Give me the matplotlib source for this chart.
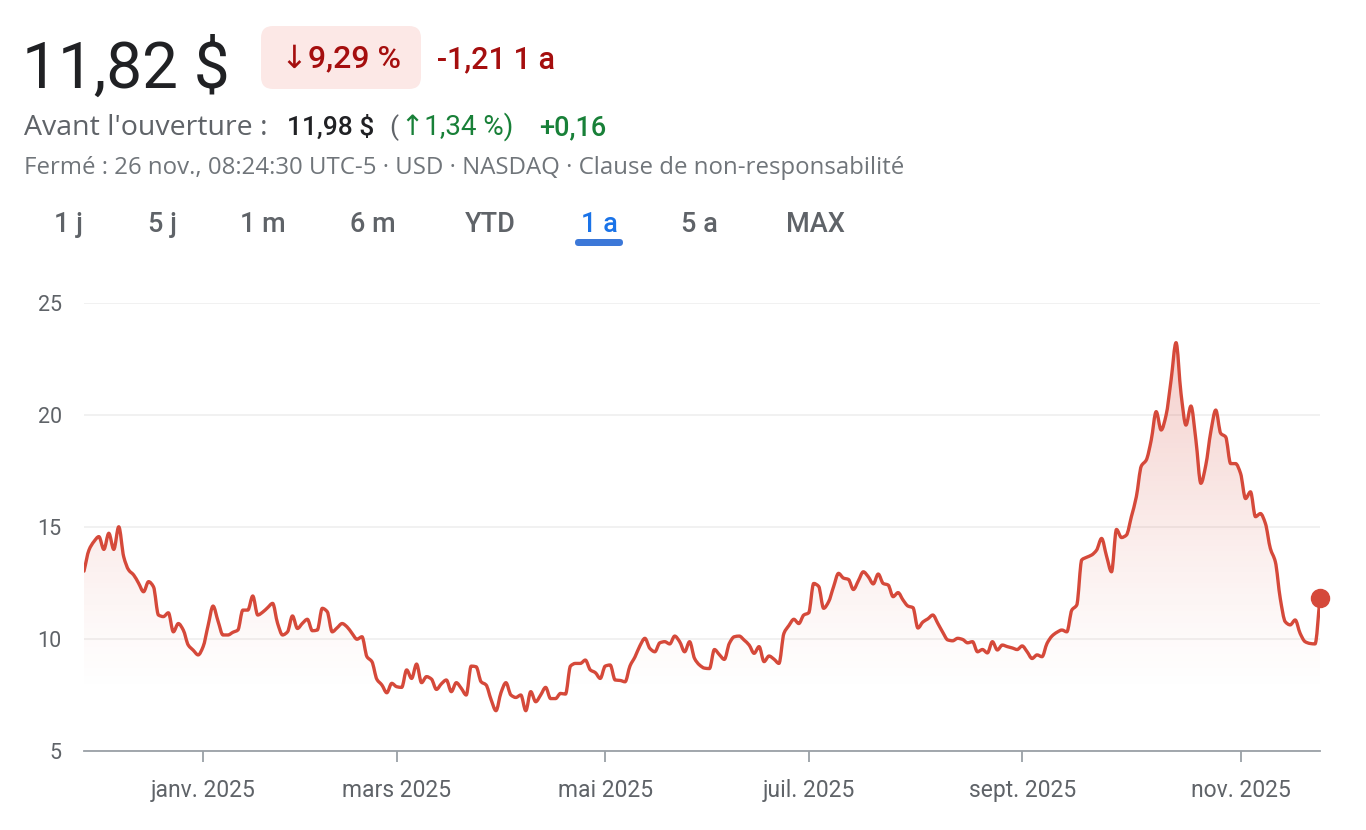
import numpy as np
import pandas as pd
import matplotlib
matplotlib.use("Agg")
import matplotlib.pyplot as plt
from matplotlib.patches import FancyBboxPatch, PathPatch
from matplotlib.path import Path
from matplotlib.transforms import IdentityTransform

plt.rcParams['font.family'] = ['Roboto', 'DejaVu Sans']

# Séances de bourse (NASDAQ) sur 1 an
jours_feries = ['2024-11-28', '2024-12-25', '2025-01-01', '2025-01-09', '2025-01-20',
                '2025-02-17', '2025-04-18', '2025-05-26', '2025-06-19', '2025-07-04',
                '2025-09-01']
seances = pd.bdate_range('2024-11-26', '2025-11-25', freq='C', holidays=jours_feries)

# Cours de clôture (un par séance)
cours = [
    13.03, 13.97, 14.35, 14.57, 14.0, 14.72, 14.0, 15.01, 13.67, 13.08,
    12.86, 12.49, 12.11, 12.56, 12.33, 11.07, 11.0, 11.17, 10.32, 10.69,
    10.40, 9.73, 9.5, 9.29, 9.66, 10.6, 11.47, 10.8, 10.18, 10.18,
    10.3, 10.40, 11.29, 11.29, 11.92, 11.07, 11.2, 11.4, 11.59, 10.7,
    10.18, 10.32, 11.03, 10.47, 10.7, 10.88, 10.37, 10.40, 11.37, 11.22,
    10.32, 10.5, 10.69, 10.54, 10.25, 9.99, 10.10, 9.21, 8.99, 8.2,
    7.95, 7.60, 8.02, 7.87, 7.84, 8.62, 8.24, 8.88, 8.05, 8.32,
    8.21, 7.75, 8.0, 8.17, 7.65, 8.05, 7.8, 7.50, 8.79, 8.76,
    8.09, 7.95, 7.3, 6.80, 7.6, 8.05, 7.50, 7.39, 7.50, 6.80,
    7.65, 7.20, 7.5, 7.84, 7.34, 7.34, 7.57, 7.54, 8.79, 8.91,
    8.91, 9.06, 8.62, 8.50, 8.24, 8.79, 8.84, 8.17, 8.15, 8.09,
    8.8, 9.2, 9.7, 10.03, 9.58, 9.43, 9.83, 9.88, 9.78, 10.13,
    9.88, 9.43, 9.88, 9.13, 8.84, 8.7, 8.68, 9.53, 9.3, 9.09,
    9.8, 10.10, 10.13, 9.95, 9.73, 9.36, 9.66, 8.99, 9.24, 9.1,
    8.91, 10.25, 10.6, 10.88, 10.69, 11.07, 11.17, 12.48, 12.35, 11.37,
    11.66, 12.33, 12.93, 12.72, 12.66, 12.21, 12.6, 13.00, 12.78, 12.46,
    12.90, 12.48, 12.41, 11.89, 12.07, 11.74, 11.47, 11.40, 10.49, 10.76,
    10.9, 11.07, 10.7, 10.3, 9.96, 9.92, 10.03, 9.98, 9.83, 9.88,
    9.43, 9.53, 9.38, 9.88, 9.51, 9.73, 9.66, 9.6, 9.53, 9.69,
    9.43, 9.13, 9.29, 9.21, 9.80, 10.13, 10.3, 10.40, 10.32, 11.29,
    11.52, 13.53, 13.65, 13.75, 13.97, 14.49, 13.7, 13.00, 14.89, 14.53,
    14.64, 15.46, 16.35, 17.72, 17.99, 18.88, 20.15, 19.33, 20.0, 21.56,
    23.23, 20.96, 19.55, 20.40, 18.88, 16.95, 17.77, 19.25, 20.22, 19.18,
    19.02, 17.83, 17.83, 17.39, 16.27, 16.57, 15.46, 15.60, 15.16, 14.04,
    13.45, 11.8, 10.77, 10.63, 10.85, 10.25, 9.88, 9.80, 9.78, 11.82,
]

mois_labels = ['janv. 2025', 'mars 2025', 'mai 2025', 'juil. 2025', 'sept. 2025', 'nov. 2025']
mois_debut = ['2025-01-01', '2025-03-01', '2025-05-01', '2025-07-01', '2025-09-01', '2025-11-01']
y_ticks = [5, 10, 15, 20, 25]
onglets = ['1 j', '5 j', '1 m', '6 m', 'YTD', '1 a', '5 a', 'MAX']
onglet_actif = '1 a'

ROUGE = '#d5493a'
GRIS = '#5f6368'

W, H = 1366, 830
fig = plt.figure(figsize=(W / 100, H / 100), dpi=100)


def pos(x, y):
    return x / W, 1 - y / H


# --- en-tête ---
fig.text(*pos(22, 88), '11,82 $', fontsize=46, color='#202124', va='baseline')
fig.patches.append(FancyBboxPatch((261, H - 89), 160, 63,
                                  boxstyle='round,pad=0,rounding_size=12',
                                  transform=IdentityTransform(), fc='#fce8e6', ec='none'))
fig.text(*pos(281, 68), '↓9,29 %', fontsize=23, color='#a50e0e', va='baseline',
         fontweight='medium')
fig.text(*pos(437, 68), '-1,21 1 a', fontsize=22, color='#a50e0e', va='baseline',
         fontweight='medium')

fig.text(*pos(24, 135), "Avant l'ouverture :", fontsize=20.5, color=GRIS, va='baseline',
         family='Open Sans')
fig.text(*pos(287, 135), '11,98 $', fontsize=19, color='#202124', va='baseline',
         fontweight='medium')
fig.text(*pos(389, 135), '(', fontsize=19, color=GRIS, va='baseline')
fig.text(*pos(401, 135), '↑1,34 %)', fontsize=20, color='#188038', va='baseline')
fig.text(*pos(539, 135), '+0,16', fontsize=19.5, color='#188038', va='baseline',
         fontweight='medium')

fig.text(*pos(24, 174), 'Fermé : 26 nov., 08:24:30 UTC-5 · USD · NASDAQ · '
         'Clause de non-responsabilité', fontsize=17.3, color='#70757a', va='baseline',
         family=['Open Sans', 'DejaVu Sans'])

onglets_x = [68, 162, 263, 373, 490, 599, 699, 815]
for nom, xc in zip(onglets, onglets_x):
    fig.text(*pos(xc, 232), nom, fontsize=19.5, ha='center', va='baseline',
             color='#1a73e8' if nom == onglet_actif else GRIS, fontweight='medium')
fig.patches.append(FancyBboxPatch((575, H - 246), 48, 7,
                                  boxstyle='round,pad=0,rounding_size=3.5',
                                  transform=IdentityTransform(), fc='#3c78d8', ec='none'))

# --- graphique ---
ax = fig.add_axes([84 / W, 1 - 751 / H, (1320 - 84) / W, (751 - 303) / H])
x = np.arange(len(seances), dtype=float)
y = np.array(cours)

# tracé lissé (courbe de Bézier monotone passant par chaque point)
d = np.diff(y)
m = np.zeros_like(y)
m[0], m[-1] = d[0], d[-1]
for k in range(1, len(y) - 1):
    if d[k - 1] * d[k] > 0:
        m[k] = 2 / (1 / d[k - 1] + 1 / d[k])
verts = [(x[0], y[0])]
codes = [Path.MOVETO]
for k in range(len(y) - 1):
    verts += [(x[k] + 1 / 3, y[k] + m[k] / 3), (x[k + 1] - 1 / 3, y[k + 1] - m[k + 1] / 3),
              (x[k + 1], y[k + 1])]
    codes += [Path.CURVE4] * 3
courbe = Path(verts, codes)
zone = Path(verts + [(x[-1], 5), (x[0], 5), (x[0], y[0])],
            codes + [Path.LINETO, Path.LINETO, Path.CLOSEPOLY])

# dégradé sous la courbe
grad = np.linspace(0, 1, 256)[:, None]
alpha = np.clip((grad * 20 + 5 - 7.5) / (23 - 7.5), 0, 1) ** 1.2 * 0.26
img = np.zeros((256, 1, 4))
img[..., 0], img[..., 1], img[..., 2] = 0.84, 0.29, 0.23
img[..., 3] = alpha
im = ax.imshow(img, extent=[0, len(x) - 1, 5, 25], origin='lower', aspect='auto', zorder=1)
im.set_clip_path(zone, transform=ax.transData)

ax.add_patch(PathPatch(courbe, fc='none', ec=ROUGE, lw=2.4, joinstyle='round',
                       capstyle='round', zorder=3))
ax.plot(x[-1], y[-1], 'o', color=ROUGE, ms=13, zorder=4, clip_on=False)

ax.set_xlim(0, len(x) - 1)
ax.set_ylim(5, 25)
ax.set_yticks(y_ticks)
ax.grid(axis='y', color='#ededed', lw=1.1, zorder=0)
ax.set_axisbelow(True)

tick_pos = [seances.searchsorted(pd.Timestamp(dt)) for dt in mois_debut]
ax.set_xticks(tick_pos)
ax.set_xticklabels(mois_labels)

for s in ['top', 'right', 'left']:
    ax.spines[s].set_visible(False)
ax.spines['bottom'].set_color('#9aa0a6')
ax.spines['bottom'].set_linewidth(1.3)
ax.tick_params(axis='x', length=8, width=1.3, color='#9aa0a6', pad=12,
               labelsize=16.5, labelcolor=GRIS)
ax.tick_params(axis='y', length=0, pad=16, labelsize=15.5, labelcolor=GRIS)

fig.savefig('out.png', dpi=100)
